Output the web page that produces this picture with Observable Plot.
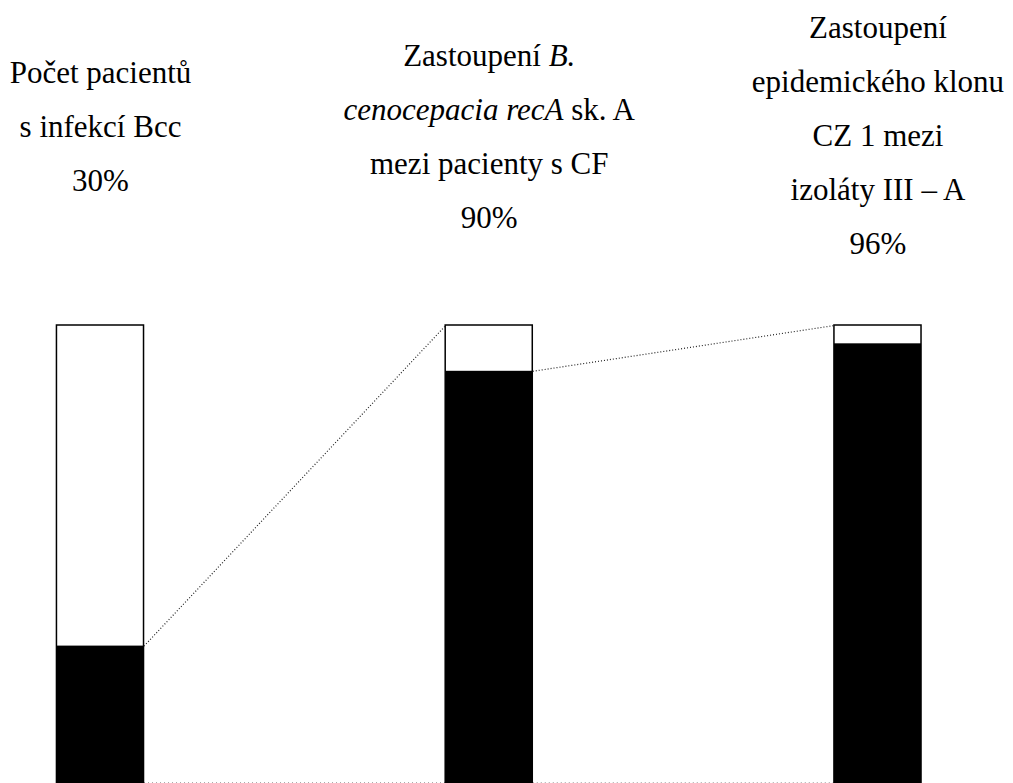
<!DOCTYPE html>
<html>
<head>
<meta charset="utf-8">
<script src="https://cdn.jsdelivr.net/npm/d3@7"></script>
<script src="https://cdn.jsdelivr.net/npm/@observablehq/plot@0.6"></script>
<style>
  html, body { margin: 0; padding: 0; background: #fff; }
</style>
</head>
<body>
<div id="wrap"></div>
<script>
// ---- data ----
const categories = ["Počet pacientů s infekcí Bcc", "Zastoupení B. cenocepacia recA sk. A mezi pacienty s CF", "Zastoupení epidemického klonu CZ 1 mezi izoláty III – A"];
const shares = [30, 90, 96];      // black part (%)
const totals = [100, 100, 100];   // whole bar (%)
const percentLabels = ["30%", "90%", "96%"];
const titleLines = [
  ["Počet pacientů", "s infekcí Bcc"],
  ["Zastoupení B.", "cenocepacia recA sk. A", "mezi pacienty s CF"],
  ["Zastoupení", "epidemického klonu", "CZ 1 mezi", "izoláty III – A"]
];
const italicParts = ["B.", "cenocepacia recA"];

// ---- layout ----
const HW = 0.112;                  // half bar width in x units
const MT = 325;                    // top of bars (px)
const titleTops = [44, 27, -1];    // anchor of first title line (px)
const FS = 31, LH = 54;
const FONT = "'Liberation Serif', 'Times New Roman', Times, serif";

const rows = categories.map((c, i) => ({i, name: c, share: shares[i], total: totals[i], label: titleLines[i].concat([percentLabels[i]]).join("\n")}));
const links = rows.slice(0, -1).map((d, k) => ({from: d.i, to: rows[k + 1].i, y1: d.share, y2: rows[k + 1].total}));

const plot = Plot.plot({
  width: 1013,
  height: 783,
  marginTop: MT,
  marginBottom: 0,
  marginLeft: 0,
  marginRight: 0,
  x: {domain: [-0.2572, 2.3486], axis: null},
  y: {domain: [0, 100], axis: null},
  style: {background: "white", fontFamily: FONT},
  marks: [
    Plot.link(links, {x1: d => d.from + HW, x2: d => d.to - HW, y1: 0, y2: 0, dy: -1, stroke: "#aaa", strokeWidth: 1, strokeDasharray: "1 3"}),
    Plot.rectY(rows, {x1: d => d.i - HW, x2: d => d.i + HW, y1: 0, y2: "total", fill: "white", stroke: "black", strokeWidth: 1.5}),
    Plot.rectY(rows, {x1: d => d.i - HW, x2: d => d.i + HW, y1: 0, y2: "share", fill: "black"}),
    Plot.link(links, {x1: d => d.from + HW, x2: d => d.to - HW, y1: "y1", y2: "y2", stroke: "#222", strokeWidth: 1.2, strokeDasharray: "1 2"}),
    ...rows.map((d, k) => Plot.text([d], {
      x: "i", text: "label", frameAnchor: "top", lineAnchor: "top", dy: titleTops[k] - MT,
      fontFamily: "Liberation Serif", fontSize: FS, lineHeight: LH / FS, fill: "black"
    }))
  ]
});

// italic fragments in the titles
const ns = "http://www.w3.org/2000/svg";
plot.querySelectorAll("text tspan, text").forEach(el => {
  if (el.children.length) return;
  const t = el.textContent;
  const part = italicParts.find(p => t.includes(p));
  if (!part) return;
  const at = t.indexOf(part);
  const before = t.slice(0, at), after = t.slice(at + part.length);
  el.textContent = "";
  if (before) el.appendChild(document.createTextNode(before));
  const it = document.createElementNS(ns, "tspan");
  it.setAttribute("font-style", "italic");
  it.textContent = part;
  el.appendChild(it);
  if (after) el.appendChild(document.createTextNode(after));
});
// force the serif face everywhere in the titles
plot.style.setProperty("font-family", FONT, "important");
plot.querySelectorAll("g[font-size], text, tspan").forEach(el => el.style.setProperty("font-family", FONT, "important"));

document.getElementById("wrap").appendChild(plot);
</script>
</body>
</html>
